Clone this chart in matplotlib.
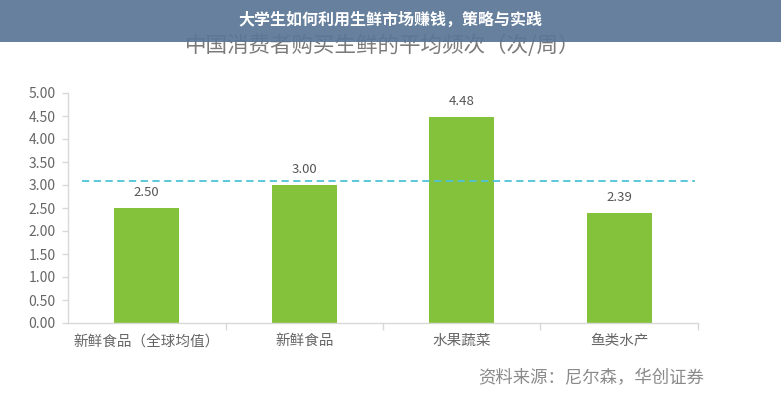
import matplotlib
matplotlib.use("Agg")
import matplotlib.pyplot as plt
from matplotlib.patches import Rectangle

plt.rcParams['font.family'] = ['Noto Sans CJK SC', 'DejaVu Sans']

categories = ["新鲜食品（全球均值）", "新鲜食品", "水果蔬菜", "鱼类水产"]
values = [2.50, 3.00, 4.48, 2.39]
avg_line = 3.08
yticks = [0.0, 0.5, 1.0, 1.5, 2.0, 2.5, 3.0, 3.5, 4.0, 4.5, 5.0]

fig = plt.figure(figsize=(7.81, 4.0), dpi=100)
fig.patch.set_facecolor("white")
ax = fig.add_axes([0.0871, 0.1925, 0.8066, 0.575])

x = list(range(len(categories)))
ax.bar(x, values, width=0.41, color="#85c23c", zorder=2)
for xi, v in zip(x, values):
    ax.text(xi, v + 0.2, f"{v:.2f}", ha="center", va="bottom", fontsize=9.5, color="#555555")

ax.hlines(avg_line, -0.41, 3.48, colors="#4fc3d8", linestyles=(0, (4, 2.5)), linewidth=1.3, zorder=3)

ax.set_xlim(-0.5, 3.5)
ax.set_ylim(0, 5.0)
ax.set_yticks(yticks)
ax.set_yticklabels([f"{t:.2f}" for t in yticks], fontsize=10, color="#666666")
ax.set_xticks([i + 0.5 for i in x], minor=False)
ax.set_xticklabels([])
ax.set_xticks(x, minor=True)
ax.set_xticklabels(categories, minor=True, fontsize=10.5, color="#666666")
ax.tick_params(axis="x", which="minor", length=0, pad=8)
ax.tick_params(axis="x", which="major", length=5, color="#d8d8d8", width=1)
ax.tick_params(axis="y", length=4, color="#d8d8d8", width=1, pad=5)

for s in ["top", "right"]:
    ax.spines[s].set_visible(False)
for s in ["left", "bottom"]:
    ax.spines[s].set_color("#d8d8d8")
    ax.spines[s].set_linewidth(1)

fig.text(0.49, 0.886, "中国消费者购买生鲜的平均频次（次/周）", ha="center", va="center",
         fontsize=15.5, color="#7a7a7a")
fig.text(0.757, 0.055, "资料来源：尼尔森，华创证券", ha="center", va="center",
         fontsize=12.5, color="#8a8a8a")

banner = Rectangle((0, 0.895), 1, 0.105, transform=fig.transFigure, facecolor="#5a7696",
                   alpha=0.93, edgecolor="none", zorder=10)
fig.patches.append(banner)
fig.text(0.5, 0.95, "大学生如何利用生鲜市场赚钱，策略与实践", ha="center", va="center",
         fontsize=11.5, color="white", fontweight="bold", zorder=11)

fig.savefig("out.png", dpi=100)
